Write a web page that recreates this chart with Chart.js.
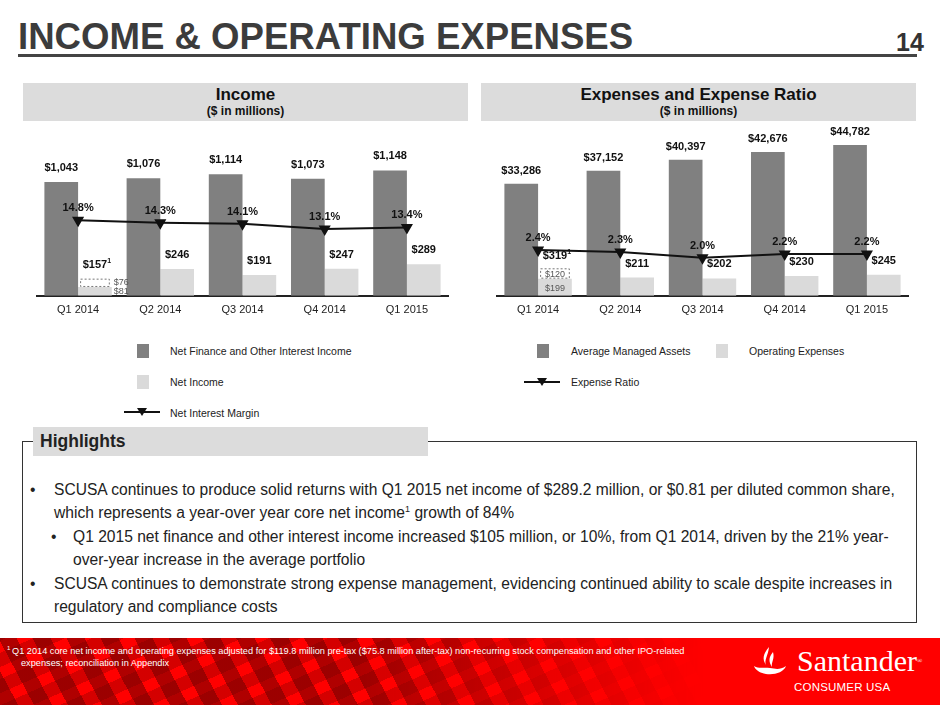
<!DOCTYPE html>
<html>
<head>
<meta charset="utf-8">
<script src="https://cdn.jsdelivr.net/npm/chart.js@4.4.1/dist/chart.umd.min.js"></script>
<style>
body{margin:0;width:940px;height:705px;position:relative;overflow:hidden;background:#fff;font-family:"Liberation Sans",Arial,sans-serif;color:#222}
.abs{position:absolute}
#title{left:18px;top:17px;font-size:36.6px;font-weight:bold;color:#3c3c3c;line-height:40px;white-space:nowrap}
#pnum{left:896px;top:28px;font-family:"Liberation Sans Narrow","Arial Narrow",sans-serif;font-size:25px;font-weight:bold;color:#333}
#rule{left:18px;top:54px;width:899px;height:3px;background:#444}
.hdr{top:83px;height:38px;background:#dcdcdc;text-align:center}
.hdr .t{font-size:17px;font-weight:bold;line-height:20px;margin-top:2px;color:#111}
.hdr .s{font-size:12px;font-weight:bold;line-height:12px;color:#111}
.chartbox{top:100px;width:425px;height:225px}
.sq{width:12px;height:14px}
.lg{font-size:10.5px;line-height:14px;color:#222;white-space:nowrap}
#hlhead{left:33px;top:427px;width:395px;height:29px;background:#dcdcdc;font-size:17.5px;font-weight:bold;line-height:29px;padding-left:7px;box-sizing:border-box;color:#222;z-index:2}
#frame{left:22px;top:441px;width:895px;height:182px;border:1.5px solid #333;box-sizing:border-box}
.bl{font-size:15.6px;line-height:23.4px;white-space:nowrap;color:#222}
#foot{left:0;top:638px;width:940px;height:67px;background:#ff0000;overflow:hidden}
#pat{left:0;top:0;width:800px;height:67px;
 background:repeating-linear-gradient(62deg,rgba(110,0,0,.55) 0 16px,transparent 16px 30px),repeating-linear-gradient(-24deg,rgba(170,0,0,.5) 0 13px,transparent 13px 24px);
 -webkit-mask-image:linear-gradient(90deg,#000 0%,#000 45%,transparent 88%);mask-image:linear-gradient(90deg,#000 0%,#000 45%,transparent 88%)}
.fn{color:#fff;font-size:9.2px;line-height:12px;white-space:nowrap}
#brand{left:797px;top:644px;font-family:"Liberation Serif","DejaVu Serif",serif;font-size:30px;color:#fff;line-height:34px}
#cusa{left:794px;top:681px;font-size:11.5px;color:#fff;letter-spacing:.2px}
</style>
</head>
<body>
<div id="title" class="abs">INCOME &amp; OPERATING EXPENSES</div>
<div id="pnum" class="abs">14</div>
<div id="rule" class="abs"></div>

<div class="abs hdr" style="left:23px;width:445px"><div class="t">Income</div><div class="s">($ in millions)</div></div>
<div class="abs hdr" style="left:481px;width:435px"><div class="t">Expenses and Expense Ratio</div><div class="s">($ in millions)</div></div>

<div class="abs chartbox" style="left:30px"><canvas id="incomeChart"></canvas></div>
<div class="abs chartbox" style="left:490px"><canvas id="expenseChart"></canvas></div>

<!-- legends -->
<div class="abs sq" style="left:137px;top:344px;background:#808080"></div>
<div class="abs lg" style="left:170px;top:344px">Net Finance and Other Interest Income</div>
<div class="abs sq" style="left:137px;top:375px;background:#dadada"></div>
<div class="abs lg" style="left:170px;top:375px">Net Income</div>
<svg class="abs" style="left:124px;top:407px" width="36" height="10"><line x1="0" y1="5" x2="36" y2="5" stroke="#111" stroke-width="2"/><polygon points="13,1 23,1 18,9" fill="#111"/></svg>
<div class="abs lg" style="left:170px;top:406px">Net Interest Margin</div>

<div class="abs sq" style="left:537px;top:344px;background:#808080"></div>
<div class="abs lg" style="left:571px;top:344px">Average Managed Assets</div>
<div class="abs sq" style="left:716px;top:344px;background:#dadada"></div>
<div class="abs lg" style="left:749px;top:344px">Operating Expenses</div>
<svg class="abs" style="left:524px;top:377px" width="36" height="10"><line x1="0" y1="5" x2="36" y2="5" stroke="#111" stroke-width="2"/><polygon points="13,1 23,1 18,9" fill="#111"/></svg>
<div class="abs lg" style="left:571px;top:375px">Expense Ratio</div>

<!-- highlights -->
<div id="frame" class="abs"></div>
<div id="hlhead" class="abs">Highlights</div>
<div class="abs bl" style="left:30px;top:478px">•</div>
<div class="abs bl" style="left:54px;top:478px">SCUSA continues to produce solid returns with Q1 2015 net income of $289.2 million, or $0.81 per diluted common share,<br>which represents a year-over year core net income<sup style="font-size:9px;line-height:0">1</sup> growth of 84%</div>
<div class="abs bl" style="left:51px;top:525px">•</div>
<div class="abs bl" style="left:73px;top:525px">Q1 2015 net finance and other interest income increased $105 million, or 10%, from Q1 2014, driven by the 21% year-<br>over-year increase in the average portfolio</div>
<div class="abs bl" style="left:30px;top:572px">•</div>
<div class="abs bl" style="left:54px;top:572px">SCUSA continues to demonstrate strong expense management, evidencing continued ability to scale despite increases in<br>regulatory and compliance costs</div>

<!-- footer -->
<div id="foot" class="abs"><div id="pat" class="abs"></div></div>
<div class="abs fn" style="left:7px;top:642px;font-size:6px">1</div>
<div class="abs fn" style="left:12px;top:645px">Q1 2014 core net income and operating expenses adjusted for $119.8 million pre-tax ($75.8 million after-tax) non-recurring stock compensation and other IPO-related</div>
<div class="abs fn" style="left:21px;top:657px">expenses; reconciliation in Appendix</div>
<svg class="abs" style="left:752px;top:646px" width="36" height="34">
  <path d="M17 1 C11 8 10 13 14 19 C12 14 16 10 17 1 Z" fill="#fff"/>
  <path d="M21 6 C16 12 17 16 20 21 C19 16 23 13 21 6 Z" fill="#fff"/>
  <path d="M2 20 C6 31 30 31 34 20 C28 24 24 23 18 22 C11 21 7 23 2 20 Z" fill="#fff"/>
</svg>
<div id="brand" class="abs">Santander<span style="font-size:7px;vertical-align:top">®</span></div>
<div id="cusa" class="abs">CONSUMER USA</div>

<script>
const quarters = ['Q1 2014', 'Q2 2014', 'Q3 2014', 'Q4 2014', 'Q1 2015'];

// income chart ($ in millions)
const netFinanceIncome = [1043, 1076, 1114, 1073, 1148];
const netIncome = [81, 246, 191, 247, 289];
const netIncomeAdj = [76, null, null, null, null];   // core adjustment, Q1 2014 only
const netInterestMargin = [14.8, 14.3, 14.1, 13.1, 13.4];

// expense chart
const avgManagedAssets = [33286, 37152, 40397, 42676, 44782];
const opExpenses = [199, 211, 202, 230, 245];
const opExpensesAdj = [120, null, null, null, null];
const expenseRatio = [2.4, 2.3, 2.0, 2.2, 2.2];

const DARK = '#808080';
const LIGHT = '#dadada';
const money = v => '$' + v.toLocaleString('en-US');
const pct = v => v.toFixed(1) + '%';

Chart.defaults.font.family = '"Liberation Sans", Arial, sans-serif';
Chart.defaults.animation = false;

// value labels, dashed adjustment boxes and small notes
const barLabels = {
    id: 'barLabels',
    afterDatasetsDraw(chart) {
        const ctx = chart.ctx;
        ctx.save();
        chart.data.datasets.forEach((ds, i) => {
            const meta = chart.getDatasetMeta(i);
            meta.data.forEach((el, j) => {
                const v = ds.data[j];
                if (v === null || v === undefined) return;
                const p = el.getProps(['x', 'y', 'base', 'width'], true);

                if (ds.dashedBox) {
                    ctx.setLineDash([2, 2]);
                    ctx.strokeStyle = '#777';
                    ctx.lineWidth = 1;
                    ctx.strokeRect(p.x - p.width / 2 + 2.5, p.y + 0.5, p.width - 5, p.base - p.y - 1);
                    ctx.setLineDash([]);
                }
                if (ds.note && ds.note(v, j)) {
                    ctx.font = '9px "Liberation Sans", Arial, sans-serif';
                    ctx.fillStyle = '#555';
                    ctx.textBaseline = 'middle';
                    const my = (p.y + p.base) / 2;
                    if (ds.notePos === 'right') {
                        ctx.textAlign = 'left';
                        ctx.fillText(ds.note(v, j), p.x + p.width / 2 + 2, my);
                    } else {
                        ctx.textAlign = 'center';
                        ctx.fillText(ds.note(v, j), p.x, my + 1);
                    }
                }
                const txt = ds.topLabel ? ds.topLabel(v, j) : null;
                if (!txt) return;
                ctx.font = 'bold 11px "Liberation Sans", Arial, sans-serif';
                ctx.fillStyle = '#111';
                ctx.textAlign = 'center';
                ctx.textBaseline = 'middle';
                const ty = p.y - ds.topGap;
                ctx.fillText(txt, p.x, ty);
                if (ds.supLabel) {
                    const w = ctx.measureText(txt).width;
                    ctx.font = 'bold 7px "Liberation Sans", Arial, sans-serif';
                    ctx.textAlign = 'left';
                    ctx.fillText('1', p.x + w / 2, ty - 4);
                }
            });
        });
        ctx.restore();
    }
};

const lineStyle = {
    type: 'line',
    borderColor: '#111',
    borderWidth: 2,
    pointStyle: 'triangle',
    rotation: 180,
    pointRadius: 5,
    pointBackgroundColor: '#111',
    pointBorderColor: '#111',
    order: 0,
    topGap: 12,
    topLabel: v => pct(v)
};

const xAxis = {
    stacked: true,
    grid: { display: false, drawTicks: false },
    border: { color: '#222', width: 2 },
    ticks: { color: '#222', font: { size: 11 }, padding: 8 }
};

const baseOptions = {
    responsive: true,
    maintainAspectRatio: false,
    layout: { padding: { top: 32, left: 0, right: 0, bottom: 0 } },
    plugins: { legend: { display: false }, tooltip: { enabled: false } },
    datasets: { bar: { categoryPercentage: 0.82, barPercentage: 1.0 } }
};

new Chart(document.getElementById('incomeChart').getContext('2d'), {
    type: 'bar',
    data: {
        labels: quarters,
        datasets: [{
            label: 'Net Finance and Other Interest Income',
            data: netFinanceIncome,
            backgroundColor: DARK,
            stack: 'a', order: 1,
            topGap: 14,
            topLabel: v => money(v)
        }, {
            label: 'Net Income',
            data: netIncome,
            backgroundColor: LIGHT,
            stack: 'b', order: 1,
            topGap: 14,
            topLabel: (v, j) => netIncomeAdj[j] === null ? money(v) : null,
            note: (v, j) => netIncomeAdj[j] !== null ? money(v) : null,
            notePos: 'right'
        }, {
            label: 'Core adjustment',
            data: netIncomeAdj,
            backgroundColor: 'rgba(0,0,0,0)',
            stack: 'b', order: 1,
            dashedBox: true,
            topGap: 14,
            supLabel: true,
            topLabel: (v, j) => money(v + netIncome[j]),
            note: v => money(v),
            notePos: 'right'
        }, Object.assign({}, lineStyle, {
            label: 'Net Interest Margin',
            data: netInterestMargin,
            yAxisID: 'y2'
        })]
    },
    options: Object.assign({}, baseOptions, {
        scales: {
            x: xAxis,
            y: { display: false, stacked: true, min: 0, max: 1500 },
            y2: { display: false, min: 0, max: 32.1 }
        }
    }),
    plugins: [barLabels]
});

new Chart(document.getElementById('expenseChart').getContext('2d'), {
    type: 'bar',
    data: {
        labels: quarters,
        datasets: [{
            label: 'Average Managed Assets',
            data: avgManagedAssets,
            backgroundColor: DARK,
            yAxisID: 'y',
            stack: 'a', order: 1,
            topGap: 13,
            topLabel: v => money(v)
        }, {
            label: 'Operating Expenses',
            data: opExpenses,
            backgroundColor: LIGHT,
            yAxisID: 'y1',
            stack: 'b', order: 1,
            topGap: 14,
            topLabel: (v, j) => opExpensesAdj[j] === null ? money(v) : null,
            note: (v, j) => opExpensesAdj[j] !== null ? money(v) : null,
            notePos: 'inside'
        }, {
            label: 'Core adjustment',
            data: opExpensesAdj,
            backgroundColor: 'rgba(0,0,0,0)',
            yAxisID: 'y1',
            stack: 'b', order: 1,
            dashedBox: true,
            topGap: 12,
            supLabel: true,
            topLabel: (v, j) => money(v + opExpenses[j]),
            note: v => money(v),
            notePos: 'inside'
        }, Object.assign({}, lineStyle, {
            label: 'Expense Ratio',
            data: expenseRatio,
            yAxisID: 'y2'
        })]
    },
    options: Object.assign({}, baseOptions, {
        scales: {
            x: xAxis,
            y: { display: false, stacked: true, min: 0, max: 48650 },
            y1: { display: false, stacked: true, min: 0, max: 1900 },
            y2: { display: false, min: 0, max: 8.6 }
        }
    }),
    plugins: [barLabels]
});
</script>
</body>
</html>
